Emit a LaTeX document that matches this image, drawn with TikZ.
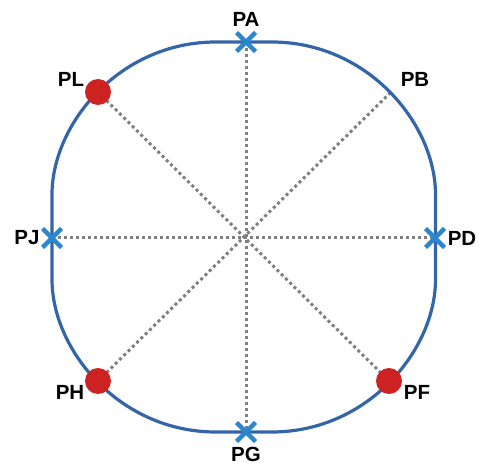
\documentclass[tikz,border=0pt]{standalone}
\usepackage{fontspec}
\setmainfont{Liberation Sans}
\definecolor{outl}{HTML}{3465A8}
\definecolor{xblue}{HTML}{2B86CC}
\definecolor{dred}{HTML}{CC2222}
\definecolor{dgray}{HTML}{808080}
\tikzset{
  lbl/.style={font=\fontsize{20.5}{22}\selectfont\bfseries, inner sep=0pt, anchor=center},
  dotline/.style={draw=dgray, line width=3pt, dash pattern=on 3pt off 3pt},
  xmark/.style={draw=none, inner sep=0pt, minimum size=0pt,
    append after command={
      \pgfextra{\draw[xblue, line width=4.3pt] ([shift={(-9.5pt,-9.5pt)}]\tikzlastnode.center) -- ([shift={(9.5pt,9.5pt)}]\tikzlastnode.center)
       ([shift={(-9.5pt,9.5pt)}]\tikzlastnode.center) -- ([shift={(9.5pt,-9.5pt)}]\tikzlastnode.center);}}},
  dmark/.style={circle, fill=dred, minimum size=26pt, inner sep=0pt}
}
\begin{document}
\begin{tikzpicture}[x=1pt,y=1pt]
\useasboundingbox (0,0) rectangle (479,464);
% coordinates: y' = 464 - y
\coordinate (A) at (246,422);
\coordinate (G) at (246,32);
\coordinate (J) at (52,226);
\coordinate (D) at (435,226);
\coordinate (L) at (98,372);
\coordinate (B) at (390,371);
\coordinate (H) at (98,83);
\coordinate (F) at (389,83);
% dotted lines
\draw[dotline] (A) -- (G);
\draw[dotline] (J) -- (D);
\draw[dotline] (L) -- (F);
\draw[dotline] (H) -- (B);
% outline
\begin{scope}[shift={(243.75,227)}]
\draw[outl, line width=3.2pt, line join=round]
  (-28,195) -- (28,195)
  .. controls (124,195) and (191.75,113.2) .. (191.75,42.5)
  -- (191.75,-42.5)
  .. controls (191.75,-113.2) and (124,-195) .. (28,-195)
  -- (-28,-195)
  .. controls (-124,-195) and (-191.75,-113.2) .. (-191.75,-42.5)
  -- (-191.75,42.5)
  .. controls (-191.75,113.2) and (-124,195) .. (-28,195) -- cycle;
\end{scope}
% markers
\node[xmark] (mA) at (A) {};
\node[xmark] (mG) at (G) {};
\node[xmark] (mJ) at (J) {};
\node[xmark] (mD) at (D) {};
\node[dmark] (mL) at (L) {};
\node[dmark] (mH) at (H) {};
\node[dmark] (mF) at (F) {};
% labels
\node[lbl] (tA) at (246,445) {PA};
\node[lbl] (tB) at (415,385) {PB};
\node[lbl] (tL) at (71,385) {PL};
\node[lbl] (tJ) at (27,226) {PJ};
\node[lbl] (tD) at (462,226) {PD};
\node[lbl] (tH) at (70,72) {PH};
\node[lbl] (tF) at (417,72) {PF};
\node[lbl] (tG) at (246,10) {PG};
\end{tikzpicture}
\end{document}
